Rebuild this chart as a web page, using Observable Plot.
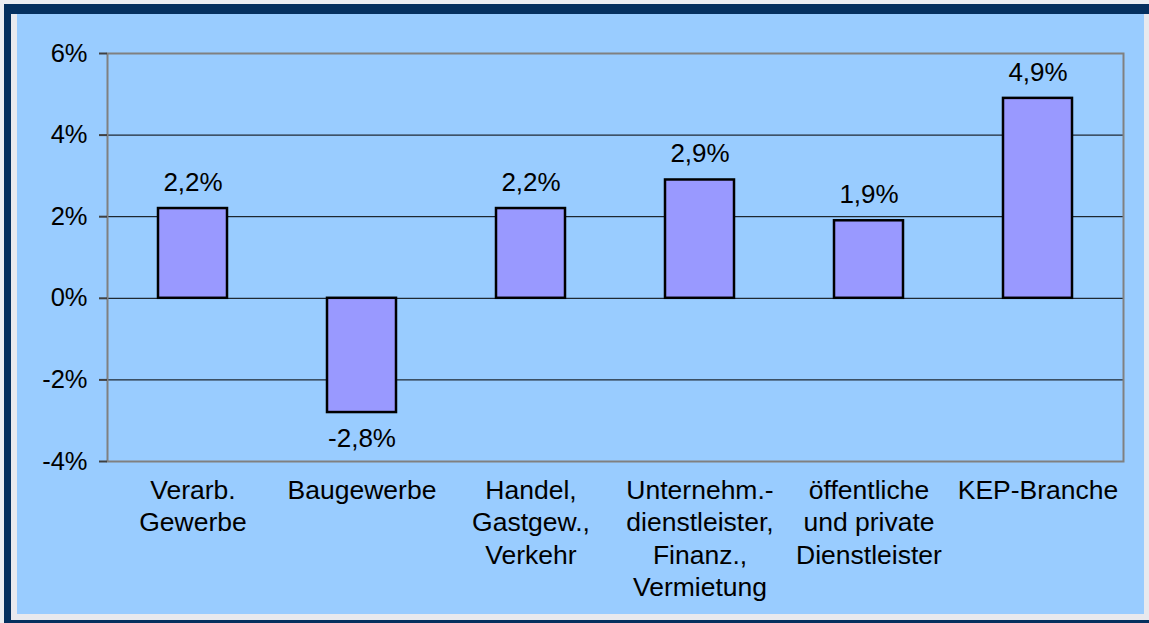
<!DOCTYPE html>
<html>
<head>
<meta charset="utf-8">
<script src="https://cdn.jsdelivr.net/npm/d3@7"></script>
<script src="https://cdn.jsdelivr.net/npm/@observablehq/plot@0.6"></script>
<style>
  html, body { margin: 0; padding: 0; }
  body { width: 1149px; height: 623px; background: #eceef2; position: relative; overflow: hidden; font-family: "Liberation Sans", Arial, sans-serif; }
  #outer { position: absolute; left: 4px; top: 4px; width: 1145px; height: 619px; box-sizing: border-box;
           border-top: 10px solid #05305f; border-left: 7px solid #05305f; border-bottom: 3px solid #05305f; background: #e8e9ee; }
  #inner { position: absolute; left: 6px; top: 0; width: 1127px; height: 600px; background: #99ccff; }
  #chart { position: absolute; left: 0; top: 0; }
</style>
</head>
<body>
<div id="outer"><div id="inner"></div></div>
<div id="chart"></div>
<script>
const categories = [
  "Verarb.\nGewerbe",
  "Baugewerbe",
  "Handel,\nGastgew.,\nVerkehr",
  "Unternehm.-\ndienstleister,\nFinanz.,\nVermietung",
  "öffentliche\nund private\nDienstleister",
  "KEP-Branche"
];
const values = [2.2, -2.8, 2.2, 2.9, 1.9, 4.9];
const yTicks = [-4, -2, 0, 2, 4, 6];
const gridValues = [-2, 0, 2, 4];

const data = categories.map((c, i) => ({cat: c, value: values[i]}));
const fmt = v => v.toFixed(1).replace(".", ",") + "%";

const chart = Plot.plot({
  width: 1149,
  height: 623,
  marginLeft: 107,
  marginRight: 26,
  marginTop: 53,
  marginBottom: 162,
  style: {background: "transparent", fontFamily: "'Liberation Sans', Arial, sans-serif", fontSize: "25px", color: "black", overflow: "visible"},
  x: {domain: categories, paddingInner: 0.59, paddingOuter: 0.295, axis: null},
  y: {domain: [-4, 6], axis: null},
  marks: [
    Plot.ruleY(gridValues, {stroke: "black", strokeWidth: 1}),
    Plot.frame({stroke: "#808080", strokeWidth: 2}),
    Plot.axisY({ticks: yTicks, tickFormat: d => d + "%", tickSize: 8, tickPadding: 12, line: true, label: null,
                stroke: "#404040", strokeWidth: 2, fontSize: 25.5, fill: "black"}),
    Plot.axisX({tickSize: 0, tickPadding: 14, fontSize: 26.5, lineHeight: 1.23, fill: "black", label: null}),
    Plot.barY(data, {x: "cat", y: "value", fill: "#9999ff", stroke: "black", strokeWidth: 2.5}),
    Plot.text(data.filter(d => d.value >= 0), {x: "cat", y: "value", text: d => fmt(d.value), dy: -26, fontSize: 26, fill: "black"}),
    Plot.text(data.filter(d => d.value < 0), {x: "cat", y: "value", text: d => fmt(d.value), dy: 26, fontSize: 26, fill: "black"})
  ]
});
document.getElementById("chart").appendChild(chart);
</script>
</body>
</html>
